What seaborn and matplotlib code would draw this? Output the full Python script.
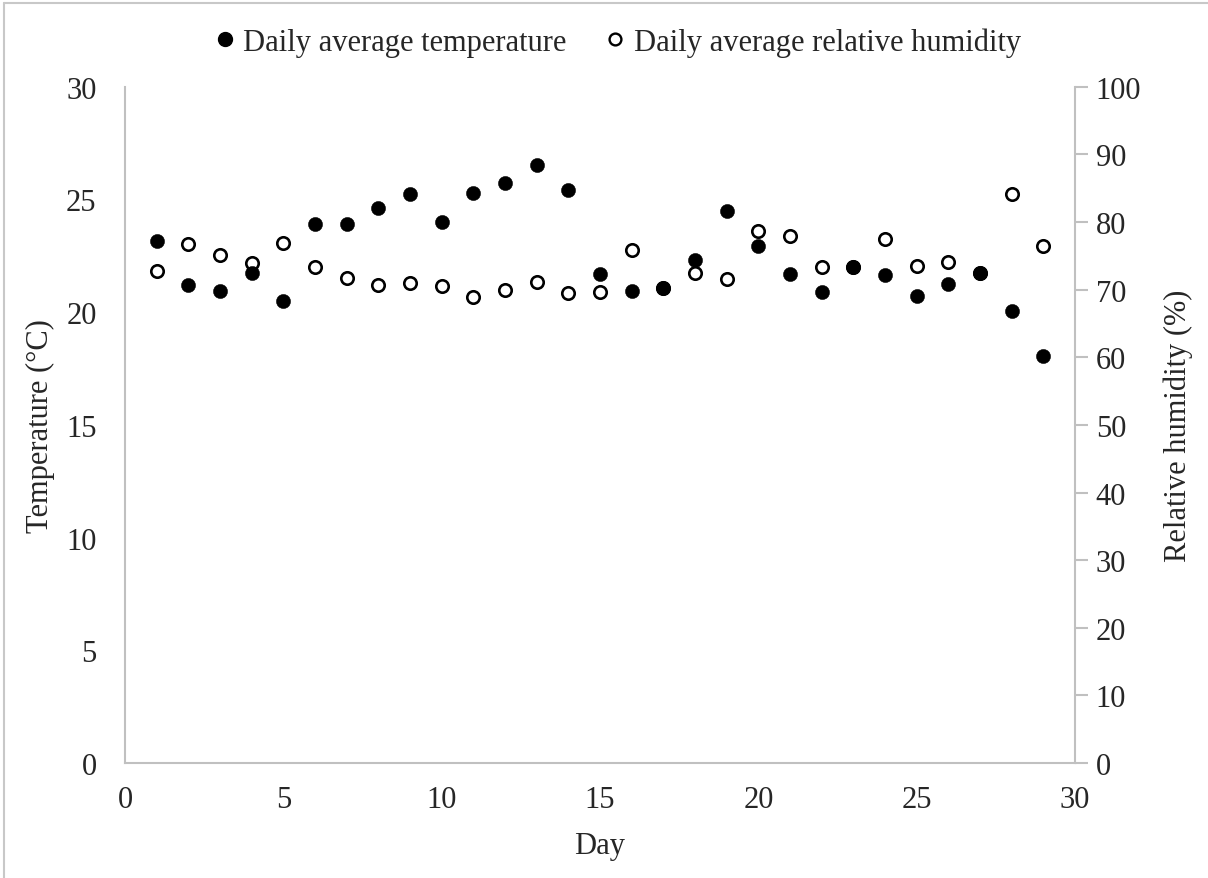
import matplotlib
matplotlib.use("Agg")
import matplotlib.pyplot as plt
from matplotlib.lines import Line2D
import seaborn as sns
import pandas as pd

days = list(range(1, 30))
temperature = [23.15, 21.22, 20.96, 21.74, 20.49, 23.92, 23.89, 24.60, 25.23, 23.98,
               25.28, 25.75, 26.53, 25.40, 21.71, 20.92, 21.08, 22.33, 24.49, 22.92,
               21.71, 20.88, 22.01, 21.64, 20.72, 21.27, 21.75, 20.06, 18.06]
humidity = [72.7, 76.7, 75.1, 74.0, 76.9, 73.4, 71.7, 70.7, 71.0, 70.6,
            68.9, 70.0, 71.1, 69.5, 69.6, 75.8, 70.3, 72.5, 71.5, 78.6,
            78.0, 73.3, 73.4, 77.5, 73.5, 74.1, 72.5, 84.1, 76.4]

temp_ticks = [0, 5, 10, 15, 20, 25, 30]
rh_ticks = [0, 10, 20, 30, 40, 50, 60, 70, 80, 90, 100]
day_ticks = [0, 5, 10, 15, 20, 25, 30]

df = pd.DataFrame({"Day": days, "Temperature": temperature, "Humidity": humidity})

sns.set_style("white")
plt.rcParams["font.family"] = ["Liberation Serif", "DejaVu Serif"]
plt.rcParams["font.size"] = 22

grey = "#c0c0c0"
fig = plt.figure(figsize=(12.08, 8.79), dpi=100)
ax = fig.add_axes([0.1035, 0.1308, 0.7864, 0.7694])
ax2 = ax.twinx()

# humidity (open circles) on the right axis, temperature (filled) drawn above it
sns.scatterplot(data=df, x="Day", y="Humidity", ax=ax2, marker="o", s=80,
                facecolor="white", edgecolor="black", linewidth=1.9, zorder=2)
sns.scatterplot(data=df, x="Day", y="Temperature", ax=ax, marker="o", s=105,
                color="black", edgecolor="black", linewidth=0.3, zorder=3)
ax.set_zorder(ax2.get_zorder() + 1)
ax.patch.set_visible(False)

ax.set_xlim(0, 30)
ax.set_ylim(0, 30)
ax2.set_ylim(0, 100)
ax.set_xticks(day_ticks)
ax.set_yticks(temp_ticks)
ax2.set_yticks(rh_ticks)

ax.set_xlabel("Day", fontsize=22, labelpad=12)
ax.set_ylabel("Temperature (°C)", fontsize=22, labelpad=8)
ax2.set_ylabel("Relative humidity (%)", fontsize=22, labelpad=16)

for a in (ax, ax2):
    a.spines["top"].set_visible(False)
    for side in ("left", "right", "bottom"):
        a.spines[side].set_color(grey)
        a.spines[side].set_linewidth(1.5)
ax.spines["right"].set_visible(False)
ax2.spines["left"].set_visible(False)
ax2.spines["bottom"].set_visible(False)

ax.tick_params(axis="y", length=0, labelsize=22, pad=20.5)
ax.tick_params(axis="x", length=0, labelsize=22, pad=16)
ax2.tick_params(axis="y", direction="out", length=9, width=1.5, color=grey,
                labelsize=22, pad=6)

handles = [
    Line2D([], [], linestyle="none", marker="o", markersize=10,
           markerfacecolor="black", markeredgecolor="black"),
    Line2D([], [], linestyle="none", marker="o", markersize=8.5,
           markerfacecolor="white", markeredgecolor="black", markeredgewidth=1.7),
]
fig.legend(handles, ["Daily average temperature", "Daily average relative humidity"],
           loc="center", bbox_to_anchor=(0.508, 0.951), ncol=2, frameon=False,
           fontsize=22, handletextpad=0.0, columnspacing=1.0, handlelength=1.2)

# outer frame lines along the top and left edges
fig.add_artist(Line2D([0.0035, 1.0], [0.9955, 0.9955], transform=fig.transFigure,
                      color="#c8c8c8", linewidth=1.5))
fig.add_artist(Line2D([0.0035, 0.0035], [0.0, 0.9955], transform=fig.transFigure,
                      color="#c8c8c8", linewidth=1.5))

fig.savefig("out.png", dpi=100, facecolor="white")
